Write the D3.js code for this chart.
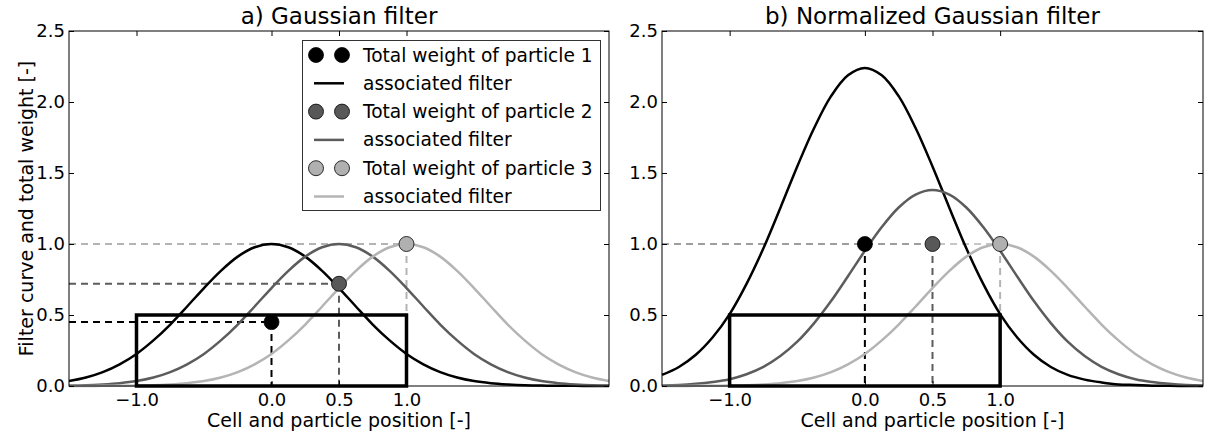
<!DOCTYPE html>
<html>
<head>
<meta charset="utf-8">
<script src="https://cdn.jsdelivr.net/npm/d3@7"></script>
<style>
  html, body { margin: 0; padding: 0; background: #fff; }
  svg { display: block; font-family: "DejaVu Sans", sans-serif; }
</style>
</head>
<body>
<svg id="chart" width="1207" height="432"></svg>
<script>
// ---------- data ----------
const xSamples = [-1.5,-1.375,-1.25,-1.125,-1.0,-0.875,-0.75,-0.625,-0.5,-0.375,-0.25,-0.125,0,
  0.125,0.25,0.375,0.5,0.625,0.75,0.875,1.0,1.125,1.25,1.375,1.5,1.625,1.75,1.875,2.0,2.125,2.25,2.375,2.5];

// a) Gaussian filter curves (peak 1)
const filterA1 = [0.035,0.060,0.098,0.153,0.226,0.321,0.433,0.560,0.690,0.811,0.911,0.977,1.000,
  0.977,0.911,0.811,0.690,0.560,0.433,0.321,0.226,0.153,0.098,0.060,0.035,0.020,0.011,0.005,0.003,0.001,0.001,0,0];
const filterA2 = [0.003,0.005,0.011,0.020,0.035,0.060,0.098,0.153,0.226,0.321,0.433,0.560,0.690,
  0.811,0.911,0.977,1.000,0.977,0.911,0.811,0.690,0.560,0.433,0.321,0.226,0.153,0.098,0.060,0.035,0.020,0.011,0.005,0.003];
const filterA3 = [0,0,0.001,0.001,0.003,0.005,0.011,0.020,0.035,0.060,0.098,0.153,0.226,
  0.321,0.433,0.560,0.690,0.811,0.911,0.977,1.000,0.977,0.911,0.811,0.690,0.560,0.433,0.321,0.226,0.153,0.098,0.060,0.035];

// b) Normalized Gaussian filter curves
const filterB1 = [0.078,0.134,0.220,0.343,0.506,0.719,0.970,1.254,1.546,1.817,2.041,2.188,2.240,
  2.188,2.041,1.817,1.546,1.254,0.970,0.719,0.506,0.343,0.220,0.134,0.078,0.045,0.025,0.011,0.007,0.002,0.002,0,0];
const filterB2 = [0.004,0.007,0.015,0.028,0.048,0.083,0.135,0.211,0.312,0.443,0.598,0.773,0.952,
  1.119,1.257,1.348,1.380,1.348,1.257,1.119,0.952,0.773,0.598,0.443,0.312,0.211,0.135,0.083,0.048,0.028,0.015,0.007,0.004];
const filterB3 = [0,0,0.001,0.001,0.003,0.005,0.011,0.020,0.035,0.060,0.098,0.153,0.226,
  0.321,0.433,0.560,0.690,0.811,0.911,0.977,1.000,0.977,0.911,0.811,0.690,0.560,0.433,0.321,0.226,0.153,0.098,0.060,0.035];

// particles
const particleX = [0.0, 0.5, 1.0];
const weightA = [0.45, 0.72, 1.0];
const weightB = [1.0, 1.0, 1.0];

// cell
const cellX = [-1.0, 1.0];
const cellHeight = 0.5;

const xTicks = [-1.0, 0.0, 0.5, 1.0];
const yTicks = [0.0, 0.5, 1.0, 1.5, 2.0, 2.5];
const titles = ["a) Gaussian filter", "b) Normalized Gaussian filter"];
const xLabel = "Cell and particle position [-]";
const yLabel = "Filter curve and total weight [-]";
const legendLabels = ["Total weight of particle 1", "associated filter",
  "Total weight of particle 2", "associated filter",
  "Total weight of particle 3", "associated filter"];

// ---------- styles ----------
const lineColors = ["#000000", "#5c5c5c", "#b4b4b4"];
const dotColors = ["#000000", "#585858", "#b0b0b0"];

const svg = d3.select("#chart");
const yTop = 31, yBottom = 386;
const panels = [
  {x0: 69, x1: 609, curves: [filterA1, filterA2, filterA3], weights: weightA, legend: true},
  {x0: 662, x1: 1203, curves: [filterB1, filterB2, filterB3], weights: weightB, legend: false}
];

panels.forEach((p, pi) => {
  const x = d3.scaleLinear().domain([-1.5, 2.5]).range([p.x0, p.x1]);
  const y = d3.scaleLinear().domain([0, 2.5]).range([yBottom, yTop]);
  const g = svg.append("g");

  // dashed guide lines
  const dash = g.append("g").attr("fill", "none").attr("stroke-width", 2).attr("stroke-dasharray", "7,5");
  particleX.forEach((px, i) => {
    dash.append("line")
      .attr("x1", x(-1.5)).attr("x2", x(px))
      .attr("y1", y(p.weights[i])).attr("y2", y(p.weights[i]))
      .attr("stroke", lineColors[i])
      .attr("stroke-opacity", (pi === 1 && i === 2) ? 0.75 : 1);
  });
  particleX.forEach((px, i) => {
    dash.append("line")
      .attr("x1", x(px)).attr("x2", x(px))
      .attr("y1", y(p.weights[i])).attr("y2", y(0))
      .attr("stroke", lineColors[i]);
  });

  // filter curves
  const line = d3.line().x((d, k) => x(xSamples[k])).y(d => y(d)).curve(d3.curveCatmullRom);
  p.curves.forEach((c, i) => {
    g.append("path").datum(c).attr("d", line)
      .attr("fill", "none").attr("stroke", lineColors[i]).attr("stroke-width", 2.5);
  });

  // cell rectangle
  g.append("rect")
    .attr("x", x(cellX[0])).attr("y", y(cellHeight))
    .attr("width", x(cellX[1]) - x(cellX[0])).attr("height", y(0) - y(cellHeight))
    .attr("fill", "none").attr("stroke", "#000").attr("stroke-width", 3.5);

  // particle dots
  particleX.forEach((px, i) => {
    g.append("circle").attr("cx", x(px)).attr("cy", y(p.weights[i])).attr("r", 7.5)
      .attr("fill", dotColors[i]).attr("stroke", "#000").attr("stroke-width", 0.8);
  });

  // axes (ticks inside, all four sides)
  const tickLen = 5;
  const fontSize = "18px";
  const fmt = d => d3.format(".1f")(d).replace("-", "\u2212");
  const ax = g.append("g").attr("transform", `translate(0,${yBottom})`)
    .call(d3.axisBottom(x).tickValues(xTicks).tickFormat(fmt).tickSizeInner(-tickLen).tickSizeOuter(0).tickPadding(7));
  const axTop = g.append("g").attr("transform", `translate(0,${yTop})`)
    .call(d3.axisTop(x).tickValues(xTicks).tickFormat("").tickSizeInner(-tickLen).tickSizeOuter(0));
  const ay = g.append("g").attr("transform", `translate(${p.x0},0)`)
    .call(d3.axisLeft(y).tickValues(yTicks).tickFormat(fmt).tickSizeInner(-tickLen).tickSizeOuter(0).tickPadding(4));
  const ayR = g.append("g").attr("transform", `translate(${p.x1},0)`)
    .call(d3.axisRight(y).tickValues(yTicks).tickFormat("").tickSizeInner(-tickLen).tickSizeOuter(0));
  [ax, axTop, ay, ayR].forEach(a => {
    a.select(".domain").remove();
    a.selectAll("text").attr("font-size", fontSize).attr("font-family", "DejaVu Sans").attr("fill", "#000");
    a.selectAll("line").attr("stroke", "#000");
  });

  // frame
  g.append("rect").attr("x", p.x0).attr("y", yTop).attr("width", p.x1 - p.x0).attr("height", yBottom - yTop)
    .attr("fill", "none").attr("stroke", "#000").attr("stroke-width", 1);

  // title
  g.append("text").attr("x", (p.x0 + p.x1) / 2).attr("y", 24).attr("text-anchor", "middle")
    .attr("font-size", "23px").text(titles[pi]);

  // x label
  g.append("text").attr("x", (p.x0 + p.x1) / 2).attr("y", 427).attr("text-anchor", "middle")
    .attr("font-size", "19px").text(xLabel);

  if (pi === 0) {
    g.append("text").attr("transform", `translate(33,${(yTop + yBottom) / 2}) rotate(-90)`)
      .attr("text-anchor", "middle").attr("font-size", "19px").text(yLabel);
  }

  if (p.legend) {
    const lg = g.append("g");
    lg.append("rect").attr("x", 302.5).attr("y", 40.5).attr("width", 298).attr("height", 170)
      .attr("fill", "#fff").attr("stroke", "#333").attr("stroke-width", 1);
    legendLabels.forEach((lab, k) => {
      const rowY = 55 + k * 28.3;
      const idx = Math.floor(k / 2);
      if (k % 2 === 0) {
        [316, 342].forEach(cx => {
          lg.append("circle").attr("cx", cx).attr("cy", rowY).attr("r", 7.5)
            .attr("fill", dotColors[idx]).attr("stroke", "#000").attr("stroke-width", 0.8);
        });
      } else {
        lg.append("line").attr("x1", 314).attr("x2", 344).attr("y1", rowY).attr("y2", rowY)
          .attr("stroke", lineColors[idx]).attr("stroke-width", 2.5);
      }
      lg.append("text").attr("x", 363).attr("y", rowY).attr("dy", "0.35em")
        .attr("font-size", "18.6px").text(lab);
    });
  }
});
</script>
</body>
</html>
